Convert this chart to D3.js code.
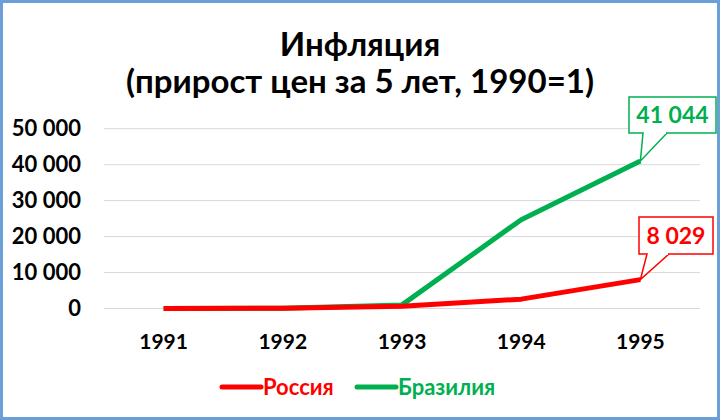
<!DOCTYPE html>
<html>
<head>
<meta charset="utf-8">
<script src="https://cdn.jsdelivr.net/npm/d3@7"></script>
<style>
  body { margin: 0; background: #fff; }
  text { font-family: Lato, "Noto Sans", sans-serif; font-weight: bold; }
</style>
</head>
<body>
<div id="chart"></div>
<script>
(function(){
    "use strict";

    var years = ["1991", "1992", "1993", "1994", "1995"];
    var russia = [2.6, 68, 640, 2600, 8029];
    var brazil = [5, 70, 1000, 24700, 41044];
    var yTicks = [0, 10000, 20000, 30000, 40000, 50000];
    var seriesNames = ["Россия", "Бразилия"];
    var seriesColors = ["#ff0000", "#00b050"];

    var width = 720, height = 420;
    var svg = d3.select("#chart").append("svg")
        .attr("width", width)
        .attr("height", height);

    svg.append("rect")
        .attr("x", 1.5).attr("y", 1.5)
        .attr("width", width - 3).attr("height", height - 3)
        .attr("fill", "#fff")
        .attr("stroke", "#6a9fd8")
        .attr("stroke-width", 3);

    // title
    svg.append("text")
        .attr("x", 360).attr("y", 56)
        .attr("text-anchor", "middle")
        .attr("font-size", 33)
        .attr("fill", "#000")
        .text("Инфляция");
    svg.append("text")
        .attr("x", 360).attr("y", 93)
        .attr("text-anchor", "middle")
        .attr("font-size", 33)
        .attr("fill", "#000")
        .text("(прирост цен за 5 лет, 1990=1)");

    var x = d3.scaleBand().domain(years).range([104, 700]);
    var y = d3.scaleLinear().domain([0, 50000]).range([308.5, 128.7]);

    var fmt = function(d) { return d3.format(",")(d).replace(/,/g, " "); };

    // gridlines
    svg.append("g").selectAll("line")
        .data(yTicks)
        .enter().append("line")
        .attr("x1", 104).attr("x2", 700)
        .attr("y1", function(d) { return y(d); })
        .attr("y2", function(d) { return y(d); })
        .attr("stroke", "#d9d9d9")
        .attr("stroke-width", 1);

    var yAxis = svg.append("g")
        .attr("transform", "translate(81,0)")
        .call(d3.axisLeft(y).tickValues(yTicks).tickFormat(fmt).tickSize(0).tickPadding(0));
    yAxis.select(".domain").remove();
    yAxis.selectAll("text")
        .attr("font-size", 22)
        .attr("font-family", "Lato, sans-serif")
        .attr("font-weight", "bold")
        .attr("fill", "#000");

    var xAxis = svg.append("g")
        .attr("transform", "translate(0,308.5)")
        .call(d3.axisBottom(x).tickSize(0).tickPadding(26));
    xAxis.select(".domain").remove();
    xAxis.selectAll("text")
        .attr("font-size", 21)
        .attr("font-family", "Lato, sans-serif")
        .attr("font-weight", "bold")
        .attr("fill", "#000");

    var cx = function(i) { return x(years[i]) + x.bandwidth() / 2; };
    var line = d3.line()
        .x(function(d, i) { return cx(i); })
        .y(function(d) { return y(d); });

    [brazil, russia].forEach(function(s) {
        var color = s === russia ? seriesColors[0] : seriesColors[1];
        svg.append("path")
            .datum(s)
            .attr("d", line)
            .attr("fill", "none")
            .attr("stroke", color)
            .attr("stroke-width", 5)
            .attr("stroke-linejoin", "round");
    });

    // callouts on the last point
    function callout(s, color, bx, by, bw, bh, p1, p2) {
        var last = s.length - 1;
        var px = cx(last), py = y(s[last]);
        var g = svg.append("g");
        g.append("rect")
            .attr("x", bx).attr("y", by)
            .attr("width", bw).attr("height", bh)
            .attr("fill", "#fff")
            .attr("stroke", color)
            .attr("stroke-width", 1.5);
        g.append("path")
            .attr("d", "M" + p1 + "," + (by + bh) + "L" + px + "," + py + "L" + p2 + "," + (by + bh))
            .attr("fill", "#fff")
            .attr("stroke", color)
            .attr("stroke-width", 1.5);
        g.append("line")
            .attr("x1", p1 + 1).attr("x2", p2 - 1)
            .attr("y1", by + bh).attr("y2", by + bh)
            .attr("stroke", "#fff")
            .attr("stroke-width", 2);
        g.append("text")
            .attr("x", bx + bw / 2).attr("y", by + bh / 2 + 8)
            .attr("text-anchor", "middle")
            .attr("font-size", 23)
            .attr("fill", color)
            .text(fmt(s[last]));
    }
    callout(brazil, seriesColors[1], 629, 97, 87, 36, 643, 667);
    callout(russia, seriesColors[0], 639, 217, 74, 37, 647, 669);

    // legend
    var legendX = [222, 357];
    var legend = svg.append("g").selectAll("g")
        .data(seriesNames)
        .enter().append("g");
    legend.append("line")
        .attr("x1", function(d, i) { return legendX[i]; })
        .attr("x2", function(d, i) { return legendX[i] + 39; })
        .attr("y1", 387).attr("y2", 387)
        .attr("stroke", function(d, i) { return seriesColors[i]; })
        .attr("stroke-width", 5)
        .attr("stroke-linecap", "round");
    legend.append("text")
        .attr("x", function(d, i) { return legendX[i] + 41; })
        .attr("y", 395)
        .attr("font-size", 22)
        .attr("fill", function(d, i) { return seriesColors[i]; })
        .text(function(d) { return d; });
})();
</script>
</body>
</html>
